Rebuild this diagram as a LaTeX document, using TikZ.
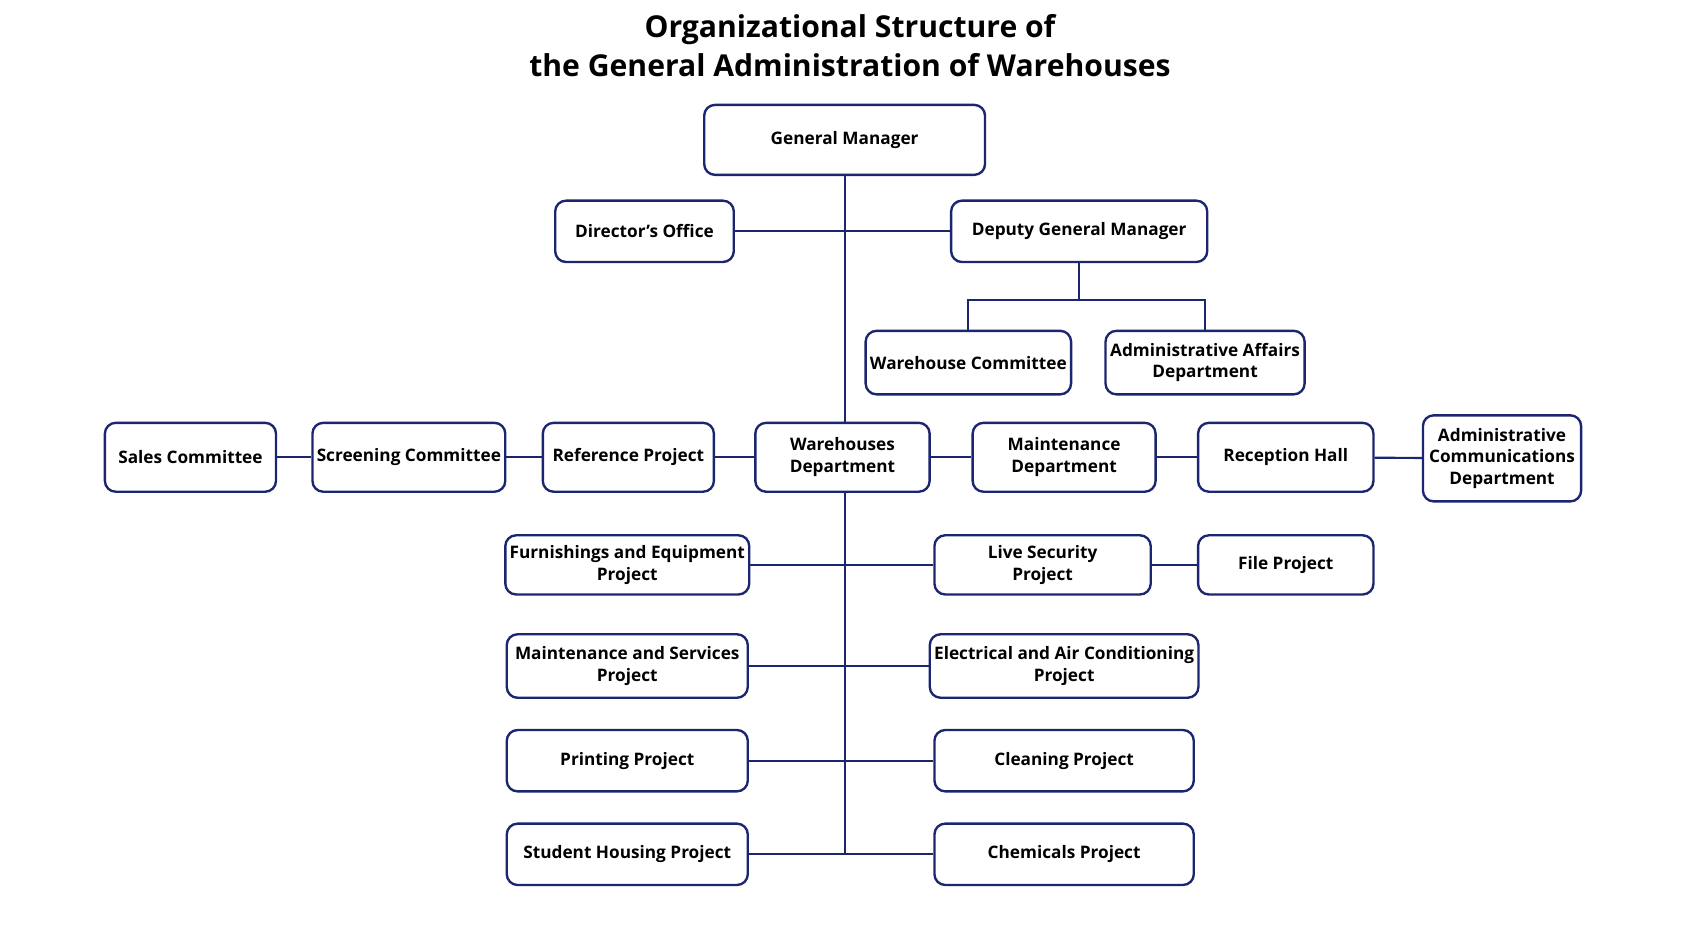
\documentclass[tikz,border=0pt]{standalone}
\usepackage{fontspec}
\setmainfont{Open Sans}
\usetikzlibrary{positioning}
\definecolor{navy}{RGB}{28,38,112}
\tikzset{
  unit/.style={draw=navy, line width=1.1pt, rounded corners=5pt, fill=white, align=center, font=\bfseries\fontsize{8}{10}\selectfont, inner sep=2pt},
  link/.style={navy, line width=1pt}
}
\begin{document}
\begin{tikzpicture}[x=0.5pt,y=-0.5pt]
        \useasboundingbox (0,0) rectangle (1567,867);
        % Title
        \node (title) at (790,46) {\bfseries\fontsize{14}{18}\selectfont\begin{tabular}{c}Organizational Structure of\\the General Administration of Warehouses\end{tabular}};
        % Top
        \node[unit, minimum width=130.5pt, minimum height=32.5pt] (gm) at (785,130) {General Manager};
        \node[unit, minimum width=83pt, minimum height=28.5pt] (dir) at (599,215) {Director’s Office};
        \node[unit, minimum width=119pt, minimum height=28.5pt] (dgm) at (1003,215) {Deputy General Manager};
        \node[unit, minimum width=94.5pt, minimum height=29.5pt] (whc) at (900,337) {Warehouse Committee};
        \node[unit, minimum width=92.5pt, minimum height=29.5pt] (aad) at (1120,337) {Administrative Affairs\\Department};
        % Main row
        \node[unit, minimum width=79.5pt, minimum height=32pt] (sales) at (177,425) {Sales Committee};
        \node[unit, minimum width=86.5pt, minimum height=32pt] (scr) at (380,425) {Screening Committee};
        \node[unit, minimum width=79.5pt, minimum height=32pt] (ref) at (584,425) {Reference Project};
        \node[unit, minimum width=81pt, minimum height=32pt] (whd) at (783,425) {Warehouses\\Department};
        \node[unit, minimum width=85pt, minimum height=32pt] (mnt) at (989,425) {Maintenance\\Department};
        \node[unit, minimum width=81.5pt, minimum height=32pt] (rec) at (1195,425) {Reception Hall};
        \node[unit, minimum width=73.5pt, minimum height=40pt] (acd) at (1396,426) {Administrative\\Communications\\Department};
        % Projects
        \node[unit, minimum width=112pt, minimum height=27.5pt] (fur) at (583,525) {Furnishings and Equipment\\Project};
        \node[unit, minimum width=100.5pt, minimum height=27.5pt] (sec) at (969,525) {Live Security\\Project};
        \node[unit, minimum width=81.5pt, minimum height=27.5pt] (file) at (1195,525) {File Project};
        \node[unit, minimum width=112pt, minimum height=29.5pt] (msp) at (583,619) {Maintenance and Services\\Project};
        \node[unit, minimum width=120.5pt, minimum height=29.5pt] (eac) at (989,619) {Electrical and Air Conditioning\\Project};
        \node[unit, minimum width=112pt, minimum height=28.5pt] (prt) at (583,707) {Printing Project};
        \node[unit, minimum width=120.5pt, minimum height=28.5pt] (cln) at (989,707) {Cleaning Project};
        \node[unit, minimum width=112pt, minimum height=28.5pt] (stu) at (583,794) {Student Housing Project};
        \node[unit, minimum width=120.5pt, minimum height=28.5pt] (chm) at (989,794) {Chemicals Project};
        % Trunk
        \coordinate (bot) at (785,794);
        \coordinate (dj) at (1003,279);
        \draw[link] (gm.south) -- (gm.south |- whd.north);
        \draw[link] (gm.south |- whd.south) -- (bot);
        \draw[link] (dir) -- (dgm);
        % Deputy branch
        \draw[link] (dgm.south) -- (dj);
        \draw[link] (whc.north) |- (dj) -| (aad.north);
        % Main row
        \draw[link] (sales) -- (scr);
        \draw[link] (scr) -- (ref);
        \draw[link] (ref) -- (whd);
        \draw[link] (whd) -- (mnt);
        \draw[link] (mnt) -- (rec);
        \draw[link] (rec) -- (acd);
        % Project rows
        \draw[link] (fur) -- (sec);
        \draw[link] (sec) -- (file);
        \draw[link] (msp) -- (eac);
        \draw[link] (prt) -- (cln);
        \draw[link] (stu) -- (chm);
    \end{tikzpicture}
\end{document}
